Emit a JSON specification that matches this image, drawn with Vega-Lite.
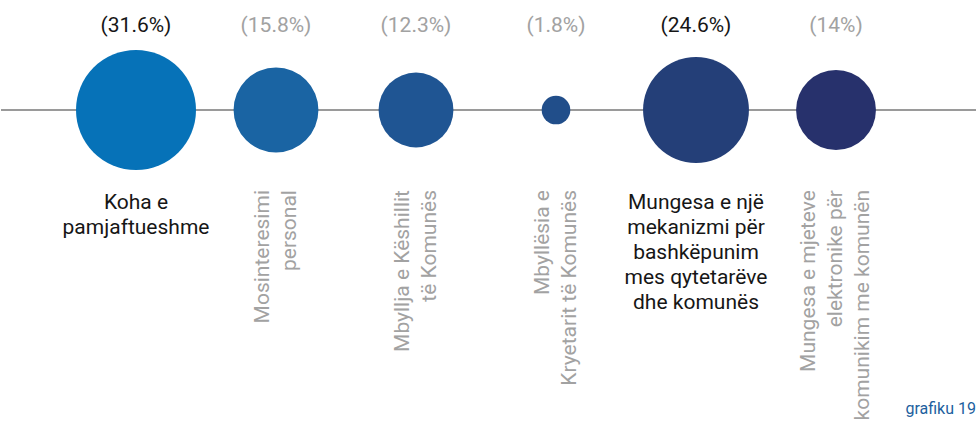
{
  "$schema": "https://vega.github.io/schema/vega-lite/v6.json",
  "width": 977,
  "height": 422,
  "autosize": {"type": "fit", "contains": "padding"},
  "padding": 0,
  "background": "white",
  "config": {"view": {"stroke": null}, "font": "Roboto"},
  "data": {
    "values": [
      {"id": "a", "label": "Koha e\npamjaftueshme", "pct": 31.6, "highlight": true},
      {"id": "b", "label": "Mosinteresimi\npersonal", "pct": 15.8, "highlight": false},
      {"id": "c", "label": "Mbyllja e Këshillit\ntë Komunës", "pct": 12.3, "highlight": false},
      {"id": "d", "label": "Mbyllësia e\nKryetarit të Komunës", "pct": 1.8, "highlight": false},
      {"id": "e", "label": "Mungesa e një\nmekanizmi për\nbashkëpunim\nmes qytetarëve\ndhe komunës", "pct": 24.6, "highlight": true},
      {"id": "f", "label": "Mungesa e mjeteve\nelektronike për\nkomunikim me komunën", "pct": 14, "highlight": false}
    ]
  },
  "transform": [{"calculate": "'(' + datum.pct + '%)'", "as": "pctText"}],
  "layer": [
    {
      "mark": {"type": "rule", "color": "#9a9a9a", "strokeWidth": 2},
      "encoding": {
        "y": {"datum": 0, "type": "quantitative", "scale": {"domain": [-2.836, 1]}, "axis": null}
      }
    },
    {
      "mark": {"type": "circle", "opacity": 1},
      "encoding": {
        "x": {"field": "id", "type": "nominal", "sort": null, "scale": {"type": "point", "range": [135, 835], "padding": 0}, "axis": null},
        "y": {"datum": 0, "type": "quantitative", "scale": {"domain": [-2.836, 1]}, "axis": null},
        "size": {"field": "pct", "type": "quantitative", "scale": {"domain": [0, 31.6], "range": [0, 14400]}, "legend": null},
        "color": {"field": "id", "type": "nominal", "scale": {"domain": ["a", "b", "c", "d", "e", "f"], "range": ["#0672b8", "#1a64a3", "#1f5593", "#214e8a", "#243f78", "#27316c"]}, "legend": null}
      }
    },
    {
      "mark": {"type": "text", "fontSize": 21, "baseline": "middle", "align": "center", "dy": -84},
      "encoding": {
        "x": {"field": "id", "type": "nominal", "sort": null, "scale": {"type": "point", "range": [135, 835], "padding": 0}, "axis": null},
        "y": {"datum": 0, "type": "quantitative", "scale": {"domain": [-2.836, 1]}, "axis": null},
        "text": {"field": "pctText"},
        "color": {"condition": {"test": "datum.highlight", "value": "#161616"}, "value": "#a2a2a2"}
      }
    },
    {
      "transform": [{"filter": "datum.highlight"}],
      "mark": {"type": "text", "fontSize": 21, "baseline": "top", "align": "center", "dy": 82, "lineBreak": "\n", "lineHeight": 25, "color": "#161616"},
      "encoding": {
        "x": {"field": "id", "type": "nominal", "sort": null, "scale": {"type": "point", "range": [135, 835], "padding": 0}, "axis": null},
        "y": {"datum": 0, "type": "quantitative", "scale": {"domain": [-2.836, 1]}, "axis": null},
        "text": {"field": "label"}
      }
    },
    {
      "transform": [{"filter": "!datum.highlight && datum.id !== 'f'"}],
      "mark": {"type": "text", "fontSize": 21, "baseline": "middle", "align": "right", "angle": 270, "dx": -80, "dy": -13.5, "lineBreak": "\n", "lineHeight": 27, "color": "#a2a2a2"},
      "encoding": {
        "x": {"field": "id", "type": "nominal", "sort": null, "scale": {"type": "point", "range": [135, 835], "padding": 0}, "axis": null},
        "y": {"datum": 0, "type": "quantitative", "scale": {"domain": [-2.836, 1]}, "axis": null},
        "text": {"field": "label"}
      }
    },
    {
      "transform": [{"filter": "datum.id === 'f'"}],
      "mark": {"type": "text", "fontSize": 21, "baseline": "middle", "align": "right", "angle": 270, "dx": -80, "dy": -27, "lineBreak": "\n", "lineHeight": 27, "color": "#a2a2a2"},
      "encoding": {
        "x": {"field": "id", "type": "nominal", "sort": null, "scale": {"type": "point", "range": [135, 835], "padding": 0}, "axis": null},
        "y": {"datum": 0, "type": "quantitative", "scale": {"domain": [-2.836, 1]}, "axis": null},
        "text": {"field": "label"}
      }
    },
    {
      "data": {"values": [{"caption": "grafiku 19"}]},
      "mark": {"type": "text", "fontSize": 16, "baseline": "alphabetic", "align": "right", "dx": 0, "dy": -8, "color": "#1d5f9e"},
      "encoding": {
        "x": {"value": "width"},
        "y": {"value": "height"},
        "text": {"field": "caption"}
      }
    }
  ]
}
